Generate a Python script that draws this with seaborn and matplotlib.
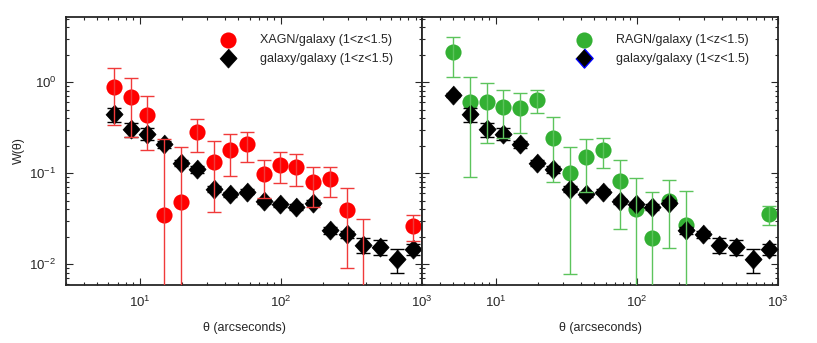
import numpy as np
import matplotlib
matplotlib.use("Agg")
import matplotlib.pyplot as plt
import seaborn as sns

# angular bins (arcsec), shared by all samples
theta = [5.0, 6.6, 8.6, 11.3, 14.9, 19.5, 25.6, 33.7, 43.7, 57.4,
         75.3, 98.9, 129, 170, 223, 293, 384, 504, 661, 867]

# galaxy/galaxy
w_gal = [0.72, 0.445, 0.302, 0.270, 0.208, 0.130, 0.111, 0.0667, 0.0585, 0.0625,
         0.0492, 0.0456, 0.0426, 0.0472, 0.0236, 0.0212, 0.0164, 0.0155, 0.0113, 0.0145]
e_gal = [0.04, 0.08, 0.05, 0.04, 0.02, 0.01, 0.01, 0.005, 0.004, 0.004,
         0.003, 0.003, 0.003, 0.003, 0.002, 0.002, 0.003, 0.003, 0.0033, 0.002]

# XAGN/galaxy
w_x = [np.nan, 0.89, 0.68, 0.44, 0.0345, 0.048, 0.28, 0.131, 0.179, 0.207,
       0.0967, 0.124, 0.117, 0.080, 0.0859, 0.039, 0.004, np.nan, np.nan, 0.0262]
e_x = [np.nan, 0.55, 0.43, 0.26, 0.20, 0.147, 0.109, 0.094, 0.087, 0.073,
       0.044, 0.047, 0.045, 0.037, 0.031, 0.030, 0.027, np.nan, np.nan, 0.0083]

# RAGN/galaxy
w_r = [2.15, 0.608, 0.598, 0.536, 0.522, 0.64, 0.244, 0.1007, 0.151, 0.179,
       0.0824, 0.0399, 0.0195, 0.0492, 0.0268, np.nan, np.nan, np.nan, np.nan, 0.0352]
e_r = [1.0, 0.517, 0.386, 0.294, 0.247, 0.177, 0.165, 0.093, 0.089, 0.065,
       0.058, 0.049, 0.043, 0.034, 0.037, np.nan, np.nan, np.nan, np.nan, 0.0085]

sns.set_style("ticks")
plt.rcParams['font.family'] = ['Liberation Sans', 'DejaVu Sans']
plt.rcParams['mathtext.fontset'] = 'custom'
plt.rcParams['mathtext.rm'] = 'Liberation Sans'
plt.rcParams['mathtext.it'] = 'Liberation Sans'
plt.rcParams['font.size'] = 9

diamond = [(0, 1), (0.9, 0), (0, -1), (-0.9, 0)]

fig = plt.figure(figsize=(8.17, 3.43), dpi=100)
ax1 = fig.add_axes([66/817, 58/343, 356/817, 268/343])
ax2 = fig.add_axes([422/817, 58/343, 356/817, 268/343])

th = np.array(theta)


def panel(ax, w, e, col, ecol, lab, start):
    sns.scatterplot(x=th, y=w, ax=ax, color=col, s=135, linewidth=0,
                    marker='o', label=lab, zorder=2)
    ax.errorbar(th[start:], w_gal[start:], yerr=e_gal[start:], fmt='none',
                ecolor='black', elinewidth=1, capsize=5, zorder=2.5)
    sns.scatterplot(x=th[start:], y=w_gal[start:], ax=ax, color='black', s=190,
                    marker=diamond, edgecolor='black', linewidth=0.5,
                    label='galaxy/galaxy (1<z<1.5)', zorder=3)
    ax.errorbar(th, w, yerr=e, fmt='none', ecolor=ecol, elinewidth=1,
                capsize=5, zorder=5)
    ax.set_xscale('log')
    ax.set_yscale('log')
    ax.set_xlim(3, 1000)
    ax.set_ylim(0.0059, 5.2)
    ax.tick_params(which='both', direction='in', top=True, right=True,
                   labelsize=9.5, width=0.8)
    ax.tick_params(which='major', length=5, pad=7)
    ax.tick_params(which='minor', length=2.5)
    for sp in ax.spines.values():
        sp.set_linewidth(1.3)
    ax.set_xlabel('θ (arcseconds)', fontsize=9, labelpad=9)
    leg = ax.legend(loc='upper left', bbox_to_anchor=(0.40, 0.965),
                    frameon=False, fontsize=9, handletextpad=1.5,
                    labelspacing=0.55, borderaxespad=0.2)
    return leg


panel(ax1, w_x, e_x, '#ff0000', '#f03a3a', 'XAGN/galaxy (1<z<1.5)', 1)
leg2 = panel(ax2, w_r, e_r, '#33b033', '#5cc45c', 'RAGN/galaxy (1<z<1.5)', 0)
leg2.legend_handles[1].set_edgecolor('blue')
leg2.legend_handles[1].set_linewidth(1.0)

ax1.set_ylabel('W(θ)', fontsize=9, labelpad=3)
ax2.tick_params(which='both', labelleft=False)

fig.savefig('out.png', dpi=100)
